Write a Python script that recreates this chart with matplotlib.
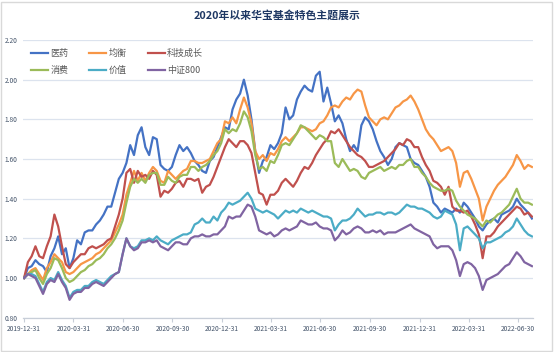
import numpy as np
import pandas as pd
import matplotlib
matplotlib.use('Agg')
import matplotlib.pyplot as plt
from matplotlib.patches import Rectangle

plt.rcParams['font.family'] = ['Noto Sans CJK SC', 'DejaVu Sans']

# weekly net values, starting 2019-12-31
yiyao = [1.00, 1.05, 1.06, 1.09, 1.07, 1.06, 1.03, 1.11, 1.15, 1.21,
         1.12, 1.15, 1.05, 1.10, 1.19, 1.17, 1.23, 1.24, 1.24, 1.27,
         1.29, 1.32, 1.36, 1.36, 1.43, 1.50, 1.53, 1.58, 1.67, 1.62,
         1.72, 1.76, 1.66, 1.62, 1.71, 1.70, 1.57, 1.55, 1.54, 1.56,
         1.62, 1.67, 1.64, 1.66, 1.63, 1.59, 1.57, 1.54, 1.53, 1.59,
         1.61, 1.66, 1.71, 1.76, 1.75, 1.85, 1.90, 1.93, 2.00, 1.92,
         1.80, 1.64, 1.53, 1.59, 1.61, 1.67, 1.65, 1.68, 1.73, 1.86,
         1.80, 1.82, 1.90, 1.94, 1.97, 1.95, 1.94, 2.02, 2.04, 1.89,
         1.96, 1.88, 1.79, 1.82, 1.78, 1.70, 1.64, 1.67, 1.64, 1.77,
         1.81, 1.79, 1.75, 1.69, 1.64, 1.61, 1.57, 1.60, 1.66, 1.68,
         1.67, 1.66, 1.60, 1.58, 1.57, 1.54, 1.51, 1.46, 1.38, 1.36,
         1.33, 1.35, 1.34, 1.33, 1.35, 1.33, 1.38, 1.36, 1.33, 1.30,
         1.26, 1.24, 1.27, 1.29, 1.30, 1.28, 1.32, 1.33, 1.34, 1.36,
         1.40, 1.37, 1.35, 1.33, 1.30]

junheng = [1.00, 1.02, 1.04, 1.05, 1.02, 0.99, 1.05, 1.08, 1.12, 1.10,
           1.08, 1.03, 1.02, 1.03, 1.05, 1.07, 1.08, 1.09, 1.10, 1.12,
           1.13, 1.15, 1.17, 1.19, 1.23, 1.27, 1.32, 1.42, 1.48, 1.54,
           1.49, 1.53, 1.49, 1.53, 1.56, 1.54, 1.49, 1.48, 1.54, 1.52,
           1.50, 1.52, 1.54, 1.55, 1.59, 1.59, 1.58, 1.58, 1.59, 1.60,
           1.64, 1.68, 1.70, 1.79, 1.78, 1.81, 1.78, 1.85, 1.91, 1.86,
           1.78, 1.64, 1.60, 1.62, 1.59, 1.63, 1.62, 1.65, 1.69, 1.71,
           1.69, 1.71, 1.73, 1.76, 1.76, 1.75, 1.74, 1.75, 1.78, 1.79,
           1.82, 1.86, 1.87, 1.86, 1.89, 1.91, 1.90, 1.93, 1.95, 1.94,
           1.87, 1.81, 1.79, 1.77, 1.80, 1.81, 1.80, 1.83, 1.86, 1.87,
           1.89, 1.90, 1.92, 1.89, 1.85, 1.80, 1.75, 1.72, 1.70, 1.67,
           1.64, 1.65, 1.66, 1.64, 1.58, 1.46, 1.53, 1.54, 1.50, 1.45,
           1.40, 1.29, 1.36, 1.40, 1.44, 1.47, 1.49, 1.51, 1.54, 1.57,
           1.62, 1.59, 1.55, 1.57, 1.56]

keji = [1.00, 1.08, 1.11, 1.16, 1.11, 1.10, 1.16, 1.21, 1.32, 1.26,
        1.16, 1.07, 1.05, 1.08, 1.10, 1.12, 1.12, 1.15, 1.16, 1.15,
        1.16, 1.17, 1.19, 1.20, 1.26, 1.32, 1.40, 1.53, 1.55, 1.48,
        1.54, 1.51, 1.52, 1.50, 1.54, 1.52, 1.41, 1.44, 1.43, 1.45,
        1.48, 1.49, 1.46, 1.50, 1.50, 1.49, 1.50, 1.43, 1.46, 1.47,
        1.51, 1.56, 1.61, 1.66, 1.70, 1.68, 1.66, 1.69, 1.69, 1.67,
        1.63, 1.53, 1.43, 1.42, 1.37, 1.42, 1.42, 1.44, 1.48, 1.50,
        1.48, 1.46, 1.49, 1.53, 1.56, 1.55, 1.58, 1.62, 1.65, 1.68,
        1.70, 1.74, 1.73, 1.75, 1.72, 1.69, 1.66, 1.64, 1.62, 1.61,
        1.59, 1.56, 1.56, 1.57, 1.58, 1.59, 1.61, 1.63, 1.65, 1.68,
        1.67, 1.70, 1.69, 1.66, 1.66, 1.61, 1.57, 1.54, 1.49, 1.48,
        1.46, 1.42, 1.46, 1.36, 1.34, 1.34, 1.33, 1.34, 1.31, 1.27,
        1.22, 1.10, 1.21, 1.21, 1.23, 1.26, 1.28, 1.30, 1.32, 1.34,
        1.36, 1.35, 1.32, 1.33, 1.31]

xiaofei = [1.00, 1.02, 1.03, 1.04, 1.00, 0.97, 1.02, 1.05, 1.10, 1.09,
           1.05, 1.00, 0.98, 0.99, 1.01, 1.03, 1.04, 1.06, 1.07, 1.09,
           1.10, 1.12, 1.15, 1.17, 1.20, 1.24, 1.29, 1.38, 1.46, 1.50,
           1.48, 1.50, 1.48, 1.52, 1.53, 1.53, 1.47, 1.47, 1.51, 1.49,
           1.48, 1.51, 1.52, 1.52, 1.56, 1.56, 1.54, 1.56, 1.57, 1.59,
           1.62, 1.64, 1.68, 1.75, 1.73, 1.75, 1.74, 1.78, 1.84, 1.81,
           1.74, 1.62, 1.55, 1.56, 1.54, 1.59, 1.58, 1.62, 1.67, 1.68,
           1.67, 1.70, 1.73, 1.77, 1.76, 1.74, 1.72, 1.70, 1.72, 1.71,
           1.69, 1.69, 1.58, 1.56, 1.60, 1.57, 1.54, 1.55, 1.54, 1.51,
           1.50, 1.53, 1.54, 1.55, 1.56, 1.54, 1.55, 1.56, 1.55, 1.57,
           1.57, 1.59, 1.60, 1.56, 1.56, 1.53, 1.51, 1.48, 1.46, 1.45,
           1.44, 1.44, 1.45, 1.44, 1.39, 1.36, 1.34, 1.32, 1.31, 1.30,
           1.28, 1.26, 1.29, 1.28, 1.30, 1.32, 1.33, 1.35, 1.37, 1.41,
           1.45, 1.40, 1.38, 1.38, 1.37]

jiazhi = [1.00, 1.02, 1.02, 1.01, 0.97, 0.93, 0.98, 1.00, 0.99, 1.03,
          0.99, 0.96, 0.90, 0.93, 0.94, 0.94, 0.96, 0.96, 0.98, 0.99,
          0.98, 0.97, 0.99, 1.01, 1.02, 1.03, 1.12, 1.20, 1.16, 1.15,
          1.16, 1.19, 1.19, 1.20, 1.19, 1.21, 1.19, 1.18, 1.17, 1.19,
          1.20, 1.21, 1.22, 1.22, 1.23, 1.27, 1.28, 1.30, 1.28, 1.28,
          1.31, 1.29, 1.33, 1.35, 1.38, 1.37, 1.38, 1.39, 1.41, 1.43,
          1.40, 1.35, 1.34, 1.33, 1.34, 1.33, 1.32, 1.30, 1.32, 1.34,
          1.33, 1.34, 1.33, 1.35, 1.34, 1.33, 1.34, 1.33, 1.32, 1.31,
          1.31, 1.30, 1.24, 1.27, 1.29, 1.29, 1.30, 1.32, 1.35, 1.33,
          1.31, 1.32, 1.32, 1.33, 1.33, 1.32, 1.33, 1.33, 1.32, 1.33,
          1.35, 1.37, 1.36, 1.36, 1.35, 1.35, 1.34, 1.33, 1.31, 1.30,
          1.31, 1.34, 1.33, 1.32, 1.27, 1.14, 1.25, 1.26, 1.24, 1.22,
          1.20, 1.15, 1.18, 1.18, 1.19, 1.20, 1.21, 1.23, 1.24, 1.26,
          1.30, 1.27, 1.24, 1.22, 1.21]

zz800 = [1.00, 1.02, 1.01, 1.00, 0.96, 0.92, 0.97, 0.99, 0.98, 1.02,
         0.98, 0.95, 0.89, 0.92, 0.93, 0.93, 0.95, 0.95, 0.97, 0.98,
         0.97, 0.96, 0.98, 1.00, 1.02, 1.03, 1.12, 1.20, 1.16, 1.14,
         1.15, 1.18, 1.18, 1.19, 1.18, 1.19, 1.16, 1.15, 1.14, 1.16,
         1.18, 1.18, 1.17, 1.17, 1.20, 1.21, 1.21, 1.22, 1.21, 1.21,
         1.22, 1.22, 1.24, 1.26, 1.31, 1.30, 1.31, 1.31, 1.34, 1.37,
         1.36, 1.31, 1.24, 1.23, 1.22, 1.23, 1.21, 1.22, 1.24, 1.25,
         1.24, 1.25, 1.26, 1.29, 1.28, 1.27, 1.27, 1.28, 1.26, 1.25,
         1.25, 1.24, 1.19, 1.21, 1.24, 1.22, 1.23, 1.25, 1.26, 1.25,
         1.23, 1.23, 1.24, 1.23, 1.24, 1.22, 1.23, 1.23, 1.23, 1.24,
         1.25, 1.26, 1.27, 1.25, 1.24, 1.23, 1.22, 1.21, 1.17, 1.15,
         1.16, 1.16, 1.16, 1.14, 1.09, 1.01, 1.07, 1.08, 1.07, 1.05,
         1.01, 0.94, 0.99, 1.00, 1.01, 1.02, 1.04, 1.06, 1.07, 1.10,
         1.13, 1.11, 1.08, 1.07, 1.06]

names = ['医药', '均衡', '科技成长', '消费', '价值', '中证800']
colors = ['#4472C4', '#F79646', '#C0504D', '#9BBB59', '#4BACC6', '#8064A2']
tick_labels = ['2019-12-31', '2020-03-31', '2020-06-30', '2020-09-30', '2020-12-31',
               '2021-03-31', '2021-06-30', '2021-09-30', '2021-12-31', '2022-03-31',
               '2022-06-30']

dates = pd.date_range('2019-12-31', periods=len(yiyao), freq='7D')
series = [yiyao, junheng, keji, xiaofei, jiazhi, zz800]

fig = plt.figure(figsize=(5.54, 3.52), dpi=100)
fig.patches.append(Rectangle((0.002, 0.003), 0.994, 0.992, transform=fig.transFigure,
                             fill=False, edgecolor='#D9D9D9', lw=1))
ax = fig.add_axes([23 / 554, 1 - 317.7 / 352, 510 / 554, (317.7 - 40) / 352])

handles = []
for vals, name, c in zip(series, names, colors):
    h, = ax.plot(dates, vals, color=c, lw=1.6, label=name)
    handles.append(h)

ax.set_ylim(0.8, 2.2)
yt = np.arange(0.8, 2.21, 0.2)
ax.set_yticks(yt)
ax.set_yticklabels(['%.2f' % v for v in yt])
ax.set_xlim(pd.Timestamp('2019-12-29'), pd.Timestamp('2022-07-28'))
ax.set_xticks(pd.to_datetime(tick_labels))
ax.set_xticklabels(tick_labels)

ax.grid(axis='y', color='#DCE3EE', lw=0.9)
ax.set_axisbelow(True)
for s in ['top', 'right', 'left']:
    ax.spines[s].set_visible(False)
ax.spines['bottom'].set_color('#C8CED8')
ax.spines['bottom'].set_linewidth(0.9)
ax.tick_params(axis='y', length=0, pad=4, labelsize=4.8, labelcolor='#44546A')
ax.tick_params(axis='x', length=3, width=0.8, color='#C8CED8', pad=2,
               labelsize=4.8, labelcolor='#44546A')

# legend filled row by row: 医药 均衡 科技成长 / 消费 价值 中证800
order = [0, 3, 1, 4, 2, 5]
ax.legend([handles[i] for i in order], [names[i] for i in order], ncol=3,
          loc='upper left', bbox_to_anchor=(0.016, 0.968), frameon=False,
          fontsize=6.5, handlelength=1.9, handletextpad=0.25, columnspacing=2.3,
          labelspacing=0.9, borderpad=0, borderaxespad=0, labelcolor='#595959')

fig.text(0.5, 1 - 15 / 352, '2020年以来华宝基金特色主题展示', ha='center', va='center',
         fontsize=7.8, fontweight='bold', color='#1F3864')

fig.savefig('out.png', dpi=100)
